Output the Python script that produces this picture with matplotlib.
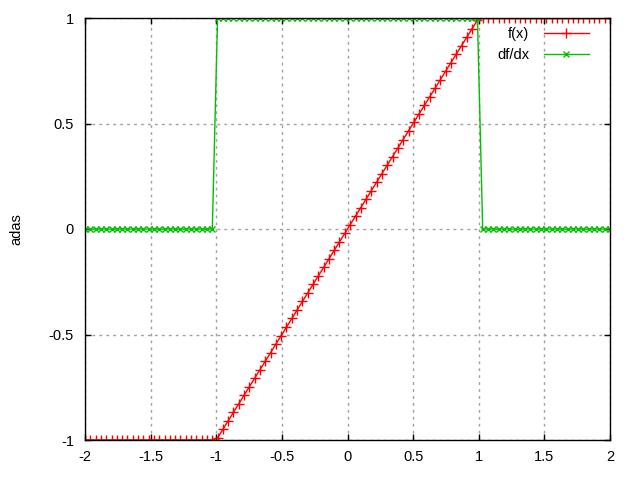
import numpy as np
import matplotlib
matplotlib.use('Agg')
import matplotlib.pyplot as plt

# samples (gnuplot style, 100 points over [-2, 2])
x = [-2.000, -1.960, -1.919, -1.879, -1.838, -1.798, -1.758, -1.717, -1.677, -1.636,
     -1.596, -1.556, -1.515, -1.475, -1.434, -1.394, -1.354, -1.313, -1.273, -1.232,
     -1.192, -1.152, -1.111, -1.071, -1.030, -0.990, -0.949, -0.909, -0.869, -0.828,
     -0.788, -0.747, -0.707, -0.667, -0.626, -0.586, -0.545, -0.505, -0.465, -0.424,
     -0.384, -0.343, -0.303, -0.263, -0.222, -0.182, -0.141, -0.101, -0.061, -0.020,
     0.020, 0.061, 0.101, 0.141, 0.182, 0.222, 0.263, 0.303, 0.343, 0.384,
     0.424, 0.465, 0.505, 0.545, 0.586, 0.626, 0.667, 0.707, 0.747, 0.788,
     0.828, 0.869, 0.909, 0.949, 0.990, 1.030, 1.071, 1.111, 1.152, 1.192,
     1.232, 1.273, 1.313, 1.354, 1.394, 1.434, 1.475, 1.515, 1.556, 1.596,
     1.636, 1.677, 1.717, 1.758, 1.798, 1.838, 1.879, 1.919, 1.960, 2.000]

# f(x)
fx = [-1, -1, -1, -1, -1, -1, -1, -1, -1, -1,
      -1, -1, -1, -1, -1, -1, -1, -1, -1, -1,
      -1, -1, -1, -1, -1, -0.990, -0.949, -0.909, -0.869, -0.828,
      -0.788, -0.747, -0.707, -0.667, -0.626, -0.586, -0.545, -0.505, -0.465, -0.424,
      -0.384, -0.343, -0.303, -0.263, -0.222, -0.182, -0.141, -0.101, -0.061, -0.020,
      0.020, 0.061, 0.101, 0.141, 0.182, 0.222, 0.263, 0.303, 0.343, 0.384,
      0.424, 0.465, 0.505, 0.545, 0.586, 0.626, 0.667, 0.707, 0.747, 0.788,
      0.828, 0.869, 0.909, 0.949, 0.990, 1, 1, 1, 1, 1,
      1, 1, 1, 1, 1, 1, 1, 1, 1, 1,
      1, 1, 1, 1, 1, 1, 1, 1, 1, 1]

# df/dx
dfdx = [0, 0, 0, 0, 0, 0, 0, 0, 0, 0,
        0, 0, 0, 0, 0, 0, 0, 0, 0, 0,
        0, 0, 0, 0, 0, 1, 1, 1, 1, 1,
        1, 1, 1, 1, 1, 1, 1, 1, 1, 1,
        1, 1, 1, 1, 1, 1, 1, 1, 1, 1,
        1, 1, 1, 1, 1, 1, 1, 1, 1, 1,
        1, 1, 1, 1, 1, 1, 1, 1, 1, 1,
        1, 1, 1, 1, 1, 0, 0, 0, 0, 0,
        0, 0, 0, 0, 0, 0, 0, 0, 0, 0,
        0, 0, 0, 0, 0, 0, 0, 0, 0, 0]

xticks = [-2, -1.5, -1, -0.5, 0, 0.5, 1, 1.5, 2]
yticks = [-1, -0.5, 0, 0.5, 1]

plt.rcParams['font.family'] = ['Liberation Sans', 'DejaVu Sans']
plt.rcParams['font.size'] = 10.5

fig = plt.figure(figsize=(6.4, 4.8), dpi=100)
ax = fig.add_axes([85/640, 1 - 440/480, 525/640, 422/480])

ax.plot(x, fx, color='#ff0000', lw=1, marker='+', ms=7, mew=1, label='f(x)')
ax.plot(x, dfdx, color='#00c000', lw=1, marker='x', ms=5, mew=1, label='df/dx')

ax.set_xlim(-2, 2)
ax.set_ylim(-1, 1)
ax.set_xticks(xticks)
ax.set_yticks(yticks)
ax.set_xticklabels([f'{t:g}' for t in xticks])
ax.set_yticklabels([f'{t:g}' for t in yticks])
ax.tick_params(direction='in', length=4.5, width=1, top=True, right=True)
ax.tick_params(axis='y', pad=8)
ax.tick_params(axis='x', pad=7)
ax.grid(True, color='#a0a0a0', linestyle=(0, (2, 3)), lw=1)
for s in ax.spines.values():
    s.set_linewidth(1)

ax.set_ylabel('adas', labelpad=18)

ax.legend(loc='upper right', bbox_to_anchor=(0.96, 0.978), frameon=False,
          markerfirst=False, handlelength=3.1, handletextpad=1.0,
          borderaxespad=0, borderpad=0, labelspacing=0.45)

fig.savefig('out.png', dpi=100)
